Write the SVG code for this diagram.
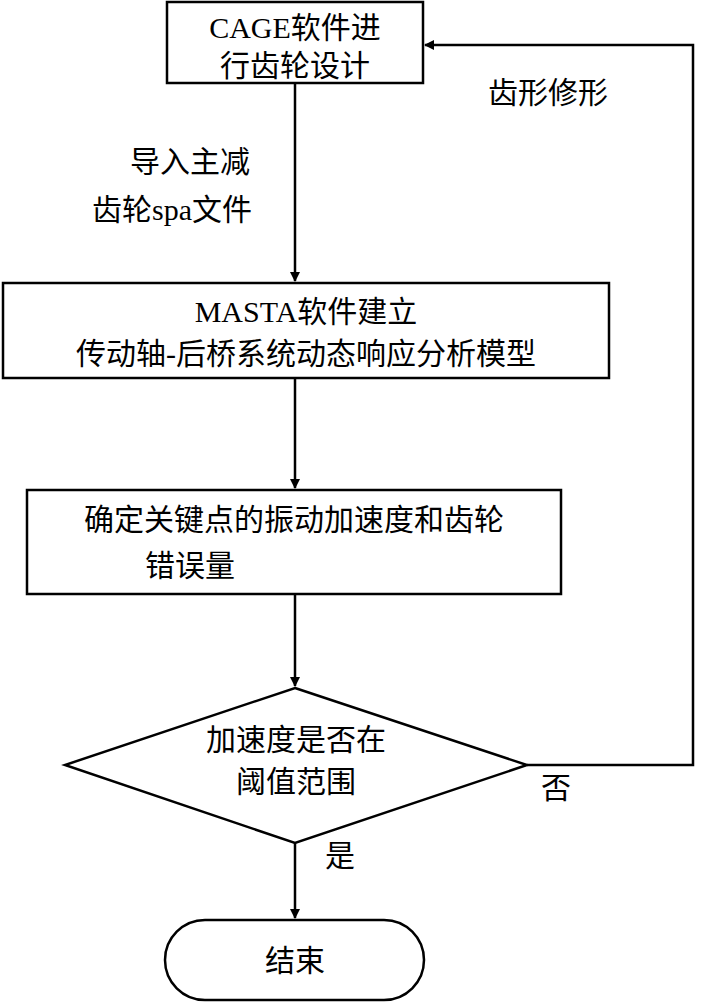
<svg xmlns="http://www.w3.org/2000/svg" width="711" height="1003" viewBox="0 0 711 1003">
<style>
.n{fill:#fff;stroke:#000;stroke-width:2.5}
.c{fill:none;stroke:#000;stroke-width:2.5}
text{font-family:"Liberation Serif","Noto Sans CJK SC",serif;font-size:30px;fill:#000;text-anchor:middle}
</style>
<defs><marker id="a" markerWidth="10" markerHeight="10" refX="9" refY="5" orient="auto" markerUnits="userSpaceOnUse" viewBox="0 0 10 10"><path d="M0,0L10,5L0,10z" fill="#000"/></marker></defs>
<rect width="711" height="1003" fill="#fff"/>
<g id="connectors">
<line class="c" x1="295" y1="83" x2="295" y2="281" marker-end="url(#a)" style="marker-end:url(#a)"/>
<line class="c" x1="295" y1="378" x2="295" y2="488" marker-end="url(#a)"/>
<line class="c" x1="295" y1="594" x2="295" y2="686" marker-end="url(#a)"/>
<line class="c" x1="295" y1="843" x2="295" y2="918" marker-end="url(#a)"/>
<polyline class="c" points="527,765 693,765 693,45 425,45" marker-end="url(#a)"/>
<text x="190" y="172">导入主减</text>
<text x="172" y="220">齿轮spa文件</text>
<text x="548" y="103">齿形修形</text>
<text x="556" y="798">否</text>
<text x="340" y="866">是</text>
</g>
<g id="n1"><rect class="n" x="167" y="2" width="256" height="81"/><text x="295" y="38">CAGE软件进</text><text x="295" y="76">行齿轮设计</text></g>
<g id="n2"><rect class="n" x="3" y="283" width="606" height="95"/><text x="306" y="322">MASTA软件建立</text><text x="306" y="364">传动轴-后桥系统动态响应分析模型</text></g>
<g id="n3"><rect class="n" x="27" y="490" width="534" height="104"/><text x="294" y="530">确定关键点的振动加速度和齿轮</text><text x="190" y="576">错误量</text></g>
<g id="n4"><polygon class="n" points="295,688 527,765 295,843 65,765"/><text x="296" y="750">加速度是否在</text><text x="296" y="792">阈值范围</text></g>
<g id="n5"><rect class="n" x="165" y="920" width="259" height="80" rx="40"/><text x="295" y="971">结束</text></g>
</svg>
